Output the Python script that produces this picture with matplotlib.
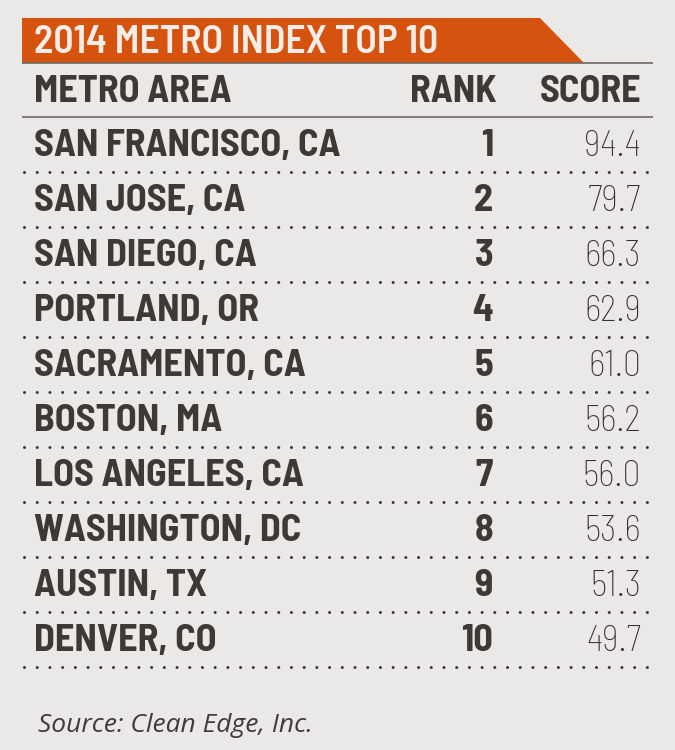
import matplotlib.pyplot as plt
from matplotlib.patches import Polygon

# table data
title = '2014 METRO INDEX TOP 10'
headers = ['METRO AREA', 'RANK', 'SCORE']
metros = ['SAN FRANCISCO, CA', 'SAN JOSE, CA', 'SAN DIEGO, CA', 'PORTLAND, OR',
          'SACRAMENTO, CA', 'BOSTON, MA', 'LOS ANGELES, CA', 'WASHINGTON, DC',
          'AUSTIN, TX', 'DENVER, CO']
ranks = [1, 2, 3, 4, 5, 6, 7, 8, 9, 10]
scores = [94.4, 79.7, 66.3, 62.9, 61.0, 56.2, 56.0, 53.6, 51.3, 49.7]
source = 'Source: Clean Edge, Inc.'

bg = '#ebe9e7'
dark = '#3d3935'
orange = '#d5520f'
cond = ['Barlow Semi Condensed', 'DejaVu Sans']

fig = plt.figure(figsize=(6.75, 7.5), dpi=100)
fig.patch.set_facecolor(bg)
ax = fig.add_axes([0, 0, 1, 1])
ax.set_xlim(0, 675)
ax.set_ylim(750, 0)
ax.axis('off')

# orange banner with slanted right edge
ax.add_patch(Polygon([(22, 18), (540, 18), (584, 63), (22, 63)], closed=True,
                     facecolor=orange, edgecolor='none'))
ax.text(34, 53, title, fontsize=28.5, fontweight='semibold', family=cond,
        color='#f5eee8', va='baseline', ha='left')
ax.hlines(63, 22, 653, color='#6e6a66', lw=1.2)

# header row
hdr = dict(fontsize=27.5, fontweight='bold', family=cond, color=dark, va='baseline')
ax.text(34, 102, headers[0], **hdr)
ax.text(497, 102, headers[1], ha='right', **hdr)
ax.text(641, 102, headers[2], ha='right', **hdr)
ax.hlines(117, 22, 653, color='#6e6a66', lw=1.2)

row_h = 55
for i, (m, r, s) in enumerate(zip(metros, ranks, scores)):
    y = 156 + i * row_h
    ax.text(34, y, m, fontsize=27.5, fontweight='bold', family=cond, color=dark,
            va='baseline')
    ax.text(493, y, str(r), fontsize=27.5, fontweight='bold', family=cond, color=dark,
            va='baseline', ha='right')
    ax.text(641, y, f'{s:.1f}', fontsize=26, fontweight='light', family=cond,
            color='#35312e', va='baseline', ha='right')
    ax.hlines(y + 16, 24, 652, color=dark, lw=2.2, linestyles=(0, (0.01, 4.15)),
              capstyle='round')

ax.text(38, 732, source, fontsize=19, style='italic', family=['Open Sans', 'DejaVu Sans'],
        color='#3f3b38', va='baseline')

fig.savefig('out.png', dpi=100, facecolor=bg)
